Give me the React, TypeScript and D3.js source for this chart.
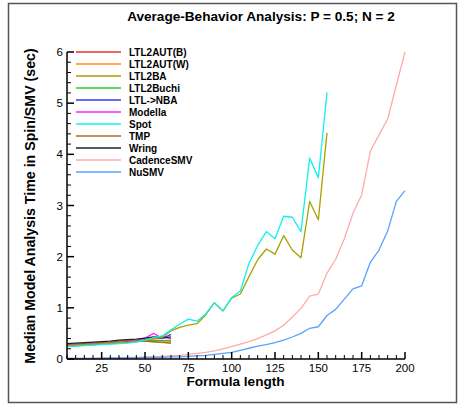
import React from "react";
import * as d3 from "d3";

const titleText = "Average-Behavior Analysis: P = 0.5; N = 2";
const xLabel = "Formula length";
const yLabel = "Median Model Analysis Time in Spin/SMV (sec)";

const xShort = [5, 10, 15, 20, 25, 30, 35, 40, 45, 50, 55, 60, 65];
const xMid = [5, 10, 15, 20, 25, 30, 35, 40, 45, 50, 55, 60, 65, 70, 75, 80, 85, 90, 95, 100, 105, 110, 115, 120, 125, 130, 135, 140, 145, 150, 155];
const xLong = [5, 10, 15, 20, 25, 30, 35, 40, 45, 50, 55, 60, 65, 70, 75, 80, 85, 90, 95, 100, 105, 110, 115, 120, 125, 130, 135, 140, 145, 150, 155, 160, 165, 170, 175, 180, 185, 190, 195, 200];

const ltl2autB = [0.27, 0.28, 0.29, 0.3, 0.31, 0.32, 0.33, 0.34, 0.35, 0.36, 0.37, 0.36, 0.35];
const ltl2autW = [0.28, 0.29, 0.3, 0.31, 0.32, 0.33, 0.35, 0.36, 0.36, 0.35, 0.33, 0.32, 0.31];
const ltl2buchi = [0.26, 0.27, 0.28, 0.29, 0.3, 0.31, 0.32, 0.33, 0.34, 0.35, 0.36, 0.36, 0.37];
const ltlNba = [0.25, 0.26, 0.27, 0.28, 0.29, 0.3, 0.31, 0.33, 0.35, 0.38, 0.41, 0.4, 0.48];
const modella = [0.26, 0.27, 0.28, 0.29, 0.3, 0.31, 0.32, 0.34, 0.37, 0.41, 0.5, 0.4, 0.44];
const tmp = [0.28, 0.29, 0.3, 0.31, 0.32, 0.33, 0.35, 0.37, 0.36, 0.35, 0.34, 0.33, 0.31];
const wring = [0.3, 0.31, 0.32, 0.33, 0.34, 0.35, 0.37, 0.38, 0.39, 0.41, 0.43, 0.43, 0.41];

const ltl2ba = [0.26, 0.27, 0.28, 0.29, 0.3, 0.31, 0.32, 0.33, 0.35, 0.37, 0.4, 0.42, 0.55, 0.62, 0.66, 0.69, 0.86, 1.1, 0.94, 1.19, 1.27, 1.61, 1.94, 2.15, 2.05, 2.41, 2.13, 1.98, 3.08, 2.72, 4.42];
const spot = [0.24, 0.25, 0.26, 0.27, 0.28, 0.29, 0.3, 0.31, 0.33, 0.37, 0.42, 0.45, 0.57, 0.68, 0.78, 0.74, 0.88, 1.1, 0.94, 1.2, 1.33, 1.87, 2.22, 2.49, 2.35, 2.79, 2.77, 2.49, 3.93, 3.54, 5.21];

const cadence = [0.01, 0.01, 0.01, 0.01, 0.02, 0.02, 0.02, 0.03, 0.03, 0.04, 0.04, 0.05, 0.06, 0.07, 0.09, 0.11, 0.13, 0.16, 0.2, 0.24, 0.29, 0.34, 0.4, 0.47, 0.55, 0.66, 0.82, 0.99, 1.23, 1.27, 1.68, 1.95, 2.35, 2.85, 3.21, 4.06, 4.38, 4.69, 5.35, 6.0];
const nusmv = [0.01, 0.01, 0.01, 0.01, 0.01, 0.02, 0.02, 0.02, 0.02, 0.03, 0.03, 0.03, 0.04, 0.04, 0.05, 0.06, 0.07, 0.09, 0.11, 0.13, 0.17, 0.21, 0.25, 0.28, 0.32, 0.37, 0.43, 0.5, 0.6, 0.63, 0.85, 0.97, 1.17, 1.37, 1.43, 1.89, 2.13, 2.5, 3.08, 3.29];

const seriesNames = ["LTL2AUT(B)", "LTL2AUT(W)", "LTL2BA", "LTL2Buchi", "LTL->NBA", "Modella", "Spot", "TMP", "Wring", "CadenceSMV", "NuSMV"];
const seriesColors = ["#e83030", "#ff8c1a", "#aaa000", "#2ec82e", "#3a3aee", "#ff20ff", "#10f0f0", "#a86a20", "#222222", "#ffaaaa", "#5aa0ff"];
const seriesX = [xShort, xShort, xMid, xShort, xShort, xShort, xMid, xShort, xShort, xLong, xLong];
const seriesY = [ltl2autB, ltl2autW, ltl2ba, ltl2buchi, ltlNba, modella, spot, tmp, wring, cadence, nusmv];
const drawOrder = [9, 10, 0, 1, 3, 7, 5, 4, 8, 2, 6];

const xMajorTicks = [25, 50, 75, 100, 125, 150, 175, 200];
const yMajorTicks = [0, 1, 2, 3, 4, 5, 6];

export default function App() {
  const W = 459, H = 404;
  const left = 67, right = 405, top = 52, bottom = 359;
  const x = d3.scaleLinear().domain([5, 200]).range([left, right]);
  const y = d3.scaleLinear().domain([0, 6]).range([bottom, top]);
  const font = "'Liberation Sans', Arial, Helvetica, sans-serif";

  const xMinor = d3.range(5, 201, 5).filter((v) => v % 25 !== 0);
  const yMinor = d3.range(0, 30).map((i) => i * 0.2).filter((v) => Math.abs(v - Math.round(v)) > 1e-6);

  const line = d3
    .line<[number, number]>()
    .x((d) => x(d[0]))
    .y((d) => y(d[1]));

  return (
    <svg width={W} height={H} style={{ position: "absolute", left: 0, top: 0, background: "#fff" }} fontFamily={font}>
      <rect x={8.5} y={3.5} width={448} height={399} fill="#fff" stroke="#555" strokeWidth={1.5} />
      <text x={261} y={21} textAnchor="middle" fontSize={13.6} fontWeight="bold" fill="#000">
        {titleText}
      </text>

      {drawOrder.map((i) => {
        const pts = seriesX[i].map((xv, j) => [xv, seriesY[i][j]] as [number, number]);
        return <path key={i} d={line(pts) || ""} fill="none" stroke={seriesColors[i]} strokeWidth={1.3} strokeLinejoin="round" />;
      })}

      {/* axes */}
      <line x1={left} x2={left} y1={top} y2={bottom} stroke="#000" strokeWidth={1.5} />
      <line x1={left} x2={right} y1={bottom} y2={bottom} stroke="#000" strokeWidth={1.5} />
      {yMajorTicks.map((t) => (
        <g key={"ym" + t}>
          <line x1={left} x2={left + 7} y1={y(t)} y2={y(t)} stroke="#000" strokeWidth={1.5} />
          <text x={left - 4} y={y(t) + 4} textAnchor="end" fontSize={11.5} fill="#000">
            {t}
          </text>
        </g>
      ))}
      {yMinor.map((t) => (
        <line key={"yn" + t} x1={left} x2={left + 4} y1={y(t)} y2={y(t)} stroke="#000" strokeWidth={1} />
      ))}
      {xMajorTicks.map((t) => (
        <g key={"xm" + t}>
          <line x1={x(t)} x2={x(t)} y1={bottom} y2={bottom - 7} stroke="#000" strokeWidth={1.5} />
          <text x={x(t)} y={bottom + 13} textAnchor="middle" fontSize={11.5} fill="#000">
            {t}
          </text>
        </g>
      ))}
      {xMinor.map((t) => (
        <line key={"xn" + t} x1={x(t)} x2={x(t)} y1={bottom} y2={bottom - 4} stroke="#000" strokeWidth={1} />
      ))}

      <text x={235.5} y={386} textAnchor="middle" fontSize={13.6} fontWeight="bold" fill="#000">
        {xLabel}
      </text>
      <text
        transform={`translate(35,206) rotate(-90)`}
        textAnchor="middle"
        fontSize={14.2}
        fontWeight="bold"
        fill="#000"
      >
        {yLabel}
      </text>

      {/* legend */}
      {seriesNames.map((n, i) => (
        <g key={"lg" + i}>
          <line x1={76} x2={121} y1={52 + i * 12} y2={52 + i * 12} stroke={seriesColors[i]} strokeWidth={1.3} />
          <text x={129} y={52 + i * 12 + 3.5} fontSize={10} fontWeight="bold" fill="#000">
            {n}
          </text>
        </g>
      ))}
    </svg>
  );
}
